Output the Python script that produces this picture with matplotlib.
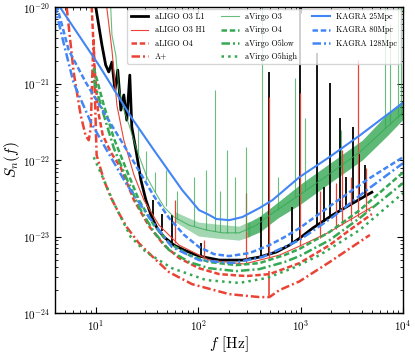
import numpy as np
import matplotlib
matplotlib.use("Agg")
import matplotlib.pyplot as plt

plt.rcParams['font.family'] = 'cmr10'
plt.rcParams['mathtext.fontset'] = 'cm'
plt.rcParams['axes.formatter.use_mathtext'] = True
plt.rcParams['axes.unicode_minus'] = False

RED = '#ea4335'
GREEN = '#34a853'
BLUE = '#4285f4'
DASH = (0, (2.2, 1.1))
DASHDOT = (0, (3.4, 1.2, 0.8, 1.2))

# aLIGO O3 L1 (smooth part) and its lines
l1_f = [10, 11.5, 12.5, 13.4, 14.4, 15.4, 16.4, 17.6, 18.8, 20.1, 21.5, 22.5, 24.7, 27.6, 30.9,
        34.6, 39.7, 46.4, 58.2, 73.0, 102, 161, 270, 396, 583, 780, 977, 1313, 2060, 3020, 4970]
l1_S = [1e-20, 3.18e-21, 1.75e-21, 1.42e-21, 1.91e-21, 8.2e-22, 1.5e-21, 4.5e-22, 7.1e-22, 3.33e-22,
        1.29e-21, 2.7e-22, 1.35e-22, 5.5e-23, 3.0e-23, 1.92e-23, 1.29e-23, 9.85e-24, 7.74e-24,
        6.67e-24, 5.56e-24, 4.93e-24, 4.93e-24, 5.4e-24, 6.3e-24, 7.74e-24, 9.5e-24, 1.29e-23,
        1.92e-23, 2.59e-23, 3.8e-23]
l1_line_f = [36, 44, 55.6, 107, 415, 497, 817, 977, 1440, 1700, 1923, 2410, 2800, 3230, 3700, 4240]
l1_line_lo = [1.8e-23, 1.2e-23, 7.74e-24, 5.56e-24, 5.4e-24, 5.73e-24, 7.9e-24, 9.5e-24, 1.37e-23,
              1.55e-23, 1.75e-23, 2.1e-23, 2.4e-23, 2.66e-23, 3.0e-23, 3.38e-23]
l1_line_hi = [3.0e-23, 2.0e-23, 1.92e-23, 8.2e-24, 1.8e-23, 1.42e-21, 2.44e-23, 1.2e-20, 2.5e-21,
              4.5e-23, 1.02e-21, 3.54e-22, 6.0e-23, 2.7e-22, 1.2e-22, 8.6e-23]

# aLIGO O3 H1
h1_f = [12.8, 14.4, 16.1, 18.8, 23.6, 29.5, 41.5, 65.2, 128, 282, 622, 977, 1923, 4970]
h1_S = [1e-20, 2.74e-21, 5.2e-22, 1.82e-22, 6.4e-23, 3.0e-23, 1.41e-23, 7.74e-24, 4.93e-24,
        4.38e-24, 5.73e-24, 7.5e-24, 1.15e-23, 2.44e-23]
h1_line_f = [59.5, 114, 296, 497, 977, 1535, 2200, 2520, 3100, 3650, 4400]
h1_line_lo = [8.2e-24, 5.4e-24, 4.5e-24, 5.24e-24, 7.5e-24, 9.5e-24, 1.25e-23, 1.4e-23, 1.6e-23,
              1.8e-23, 2.1e-23]
h1_line_hi = [3.0e-23, 9.0e-24, 3.7e-23, 6.7e-22, 7.5e-22, 4.0e-23, 5.0e-23, 1.35e-22, 6.0e-23,
              2.03e-21, 8.0e-23]

# aLIGO O4
o4_f = [9.13, 9.78, 10.5, 11.7, 14.0, 17.6, 23.6, 33.1, 46.4, 65.2, 102, 161, 296, 497, 977, 1923, 3020, 4970]
o4_S = [1e-20, 1.5e-21, 4.5e-22, 2.13e-22, 1.27e-22, 7.9e-23, 3.0e-23, 1.37e-23, 7.74e-24, 5.24e-24,
        3.86e-24, 3.23e-24, 3.05e-24, 3.23e-24, 4.5e-24, 7.74e-24, 1.22e-23, 1.97e-23]

# A+
ap_f = [5.2, 6.08, 7.13, 7.98, 8.54, 8.93, 9.35, 9.56, 9.78, 10.2, 12.0, 14.0, 16.8, 20.1, 26.4,
        37.0, 52.0, 87.3, 201, 396, 497, 622, 977, 1923, 4750]
ap_S = [1e-20, 1.42e-21, 3.85e-22, 2.07e-22, 1.82e-22, 2.6e-22, 2.03e-21, 3.7e-21, 8.2e-22, 1.16e-22,
        5.5e-23, 3.28e-23, 2.03e-23, 1.33e-23, 8.2e-24, 5.24e-24, 3.43e-24, 2.39e-24, 1.77e-24,
        1.62e-24, 1.62e-24, 2.0e-24, 2.6e-24, 4.65e-24, 1.05e-23]
ap_line_f = [497]
ap_line_lo = [1.62e-24]
ap_line_hi = [3.6e-24]

# aVirgo O3: mean curve, noise band (low / high frequency part) and lines
v3_f = [14.0, 14.4, 15.7, 16.8, 18.8, 21.1, 25.2, 31.6, 37.0, 46.4, 58.2, 81.7, 120, 172, 252, 370,
        532, 977, 1923, 3785, 10000]
v3_S = [1e-20, 4.3e-21, 2.36e-21, 8.7e-22, 4.5e-22, 2.9e-22, 1.35e-22, 6.0e-23, 4.06e-23, 2.44e-23,
        1.8e-23, 1.41e-23, 1.22e-23, 1.12e-23, 1.12e-23, 1.41e-23, 2.03e-23, 3.5e-23, 6.6e-23,
        1.27e-22, 4.2e-22]
v3_band_low_f = [60, 100, 150, 250, 320]
v3_band_low_lo = [1.55e-23, 1.02e-23, 9.56e-24, 9.0e-24, 1.0e-23]
v3_band_low_hi = [2.1e-23, 1.55e-23, 1.46e-23, 1.37e-23, 1.6e-23]
v3_band_f = [300, 400, 600, 1000, 2000, 4000, 7000, 10000]
v3_band_lo = [9.8e-24, 1.15e-23, 1.75e-23, 2.66e-23, 5.2e-23, 1.0e-22, 2.07e-22, 3.4e-22]
v3_band_hi = [1.5e-23, 1.85e-23, 2.82e-23, 4.86e-23, 9.4e-23, 1.82e-22, 3.99e-22, 6.1e-22]
v3_line_f = [26, 31, 38, 48.5, 62, 91.4, 120, 147, 165, 192, 230, 296, 424, 600, 875, 1095, 2500,
             6670, 7460, 8950, 9600]
v3_line_lo = [1.2e-22, 5.5e-23, 3.8e-23, 2.5e-23, 1.7e-23, 1.37e-23, 1.22e-23, 1.2e-23, 1.15e-23,
              1.12e-23, 1.1e-23, 1.15e-23, 1.55e-23, 2.2e-23, 3.3e-23, 4.06e-23, 8e-23,
              2.6e-22, 3.0e-22, 3.5e-22, 3.8e-22]
v3_line_hi = [2.6e-22, 1.3e-22, 7.0e-23, 7.4e-23, 4.0e-23, 6.0e-23, 7.4e-23, 8.2e-22, 4.0e-23,
              1.35e-22, 6.0e-23, 1.48e-22, 1.2e-20, 6.0e-23, 1.18e-21, 3.54e-22, 2.5e-22,
              1.2e-20, 6.0e-21, 1.2e-20, 1.2e-20]

# aVirgo O4, O5low, O5high
vo4_f = [9.56, 12.0, 15.0, 18.8, 26.4, 37.0, 52.0, 81.7, 128, 236, 396, 697, 977, 1923, 3785, 10000]
vo4_S = [1.6e-21, 5.2e-22, 1.94e-22, 9.1e-23, 3.0e-23, 1.41e-23, 8.2e-24, 5.73e-24, 4.65e-24,
         4.24e-24, 4.5e-24, 5.73e-24, 6.9e-24, 1.15e-23, 2.22e-23, 6.9e-23]
v5l_f = [9.56, 12.0, 15.0, 18.8, 26.4, 37.0, 52.0, 81.7, 128, 236, 396, 697, 977, 1923, 3785, 10000]
v5l_S = [1.11e-21, 3.85e-22, 1.44e-22, 7.0e-23, 2.44e-23, 1.15e-23, 6.67e-24, 4.65e-24, 3.86e-24,
         3.54e-24, 3.76e-24, 4.65e-24, 5.56e-24, 9.0e-24, 1.75e-23, 5.0e-23]
v5h_f = [9.56, 12.0, 15.0, 22.0, 30.9, 55.6, 120, 252, 465, 836, 1535, 3785, 10000]
v5h_S = [1.09e-22, 5.5e-23, 2.75e-23, 9.85e-24, 6.3e-24, 3.86e-24, 2.7e-24, 2.48e-24, 2.87e-24,
         3.86e-24, 5.73e-24, 1.22e-23, 3.7e-23]

# KAGRA
k25_f = [4.34, 10.7, 22.5, 37.0, 69.8, 102, 128, 150, 201, 270, 396, 532, 977, 1923, 3785, 10000]
k25_S = [1.06e-20, 1.75e-21, 3.54e-22, 1.35e-22, 4.06e-23, 2.22e-23, 1.92e-23, 1.7e-23, 1.64e-23,
         1.8e-23, 2.36e-23, 3.0e-23, 6.0e-23, 1.1e-22, 2.1e-22, 5.6e-22]
k80_f = [4.15, 5.44, 7.98, 12.5, 20.1, 37.0, 52.0, 73.0, 102, 143, 201, 316, 497, 697, 977, 2060, 4435, 10000]
k80_S = [1.06e-20, 2.74e-21, 1.04e-21, 3.85e-22, 1.35e-22, 3.38e-23, 1.75e-23, 1.05e-23, 7.3e-24,
         5.9e-24, 5.56e-24, 6.08e-24, 7.74e-24, 9.85e-24, 1.29e-23, 2.66e-23, 5.5e-23, 1.09e-22]
k128_f = [3.96, 4.86, 6.08, 8.93, 12.8, 19.7, 33.1, 55.6, 102, 215, 424, 977, 2060, 4435, 10000]
k128_S = [1.06e-20, 3.38e-21, 1.02e-21, 3.14e-22, 1.35e-22, 5.0e-23, 1.8e-23, 7.3e-24, 4.93e-24,
          4.5e-24, 5.4e-24, 9.0e-24, 1.8e-23, 4.06e-23, 9.1e-23]

fig = plt.figure(figsize=(4.15, 3.53), dpi=100)
ax = fig.add_axes([0.1325, 0.113, 0.8385, 0.867])

ax.plot(l1_f, l1_S, color='black', lw=2.0, label='aLIGO O3 L1')
ax.vlines(l1_line_f, l1_line_lo, l1_line_hi, color='black', lw=1.3)
ax.plot(h1_f, h1_S, color=RED, lw=0.8, label='aLIGO O3 H1')
ax.vlines(h1_line_f, h1_line_lo, h1_line_hi, color=RED, lw=0.9)
ax.plot(o4_f, o4_S, color=RED, lw=1.8, ls=DASH, label='aLIGO O4')
ax.plot(ap_f, ap_S, color=RED, lw=1.8, ls=DASHDOT, label='A+')
ax.vlines(ap_line_f, ap_line_lo, ap_line_hi, color=RED, lw=1.2)

ax.fill_between(v3_band_low_f, v3_band_low_lo, v3_band_low_hi, color=GREEN, alpha=0.45, lw=0)
ax.fill_between(v3_band_f, v3_band_lo, v3_band_hi, color=GREEN, alpha=0.8, lw=0)
ax.plot(v3_f, v3_S, color=GREEN, lw=0.8, alpha=0.75, label='aVirgo O3')
ax.vlines(v3_line_f, v3_line_lo, v3_line_hi, color=GREEN, lw=0.8, alpha=0.75)
ax.plot(vo4_f, vo4_S, color=GREEN, lw=1.8, ls=DASH, label='aVirgo O4')
ax.plot(v5l_f, v5l_S, color=GREEN, lw=1.8, ls=DASHDOT, label='aVirgo O5low')
ax.plot(v5h_f, v5h_S, color=GREEN, lw=1.8, ls=':', label='aVirgo O5high')

ax.plot(k25_f, k25_S, color=BLUE, lw=1.5, label='KAGRA 25Mpc')
ax.plot(k80_f, k80_S, color=BLUE, lw=1.8, ls=DASH, label='KAGRA 80Mpc')
ax.plot(k128_f, k128_S, color=BLUE, lw=1.8, ls=DASHDOT, label='KAGRA 128Mpc')

ax.set_xscale('log')
ax.set_yscale('log')
ax.set_xlim(4, 1e4)
ax.set_ylim(1e-24, 1e-20)
ax.set_xlabel('$f$ [Hz]', fontsize=11, labelpad=1)
ax.set_ylabel('$S_n(f)$', fontsize=11, labelpad=1)
ax.tick_params(which='both', direction='in', top=True, right=True, labelsize=8)
ax.tick_params(which='major', length=4)
ax.tick_params(which='minor', length=2)
for s in ax.spines.values():
    s.set_linewidth(1.0)

ax.legend(ncol=3, loc='upper right', fontsize=5.8, framealpha=0.8, handlelength=2.2,
          columnspacing=1.9, labelspacing=0.6, borderaxespad=0.3)

fig.savefig('out.png', dpi=100)
